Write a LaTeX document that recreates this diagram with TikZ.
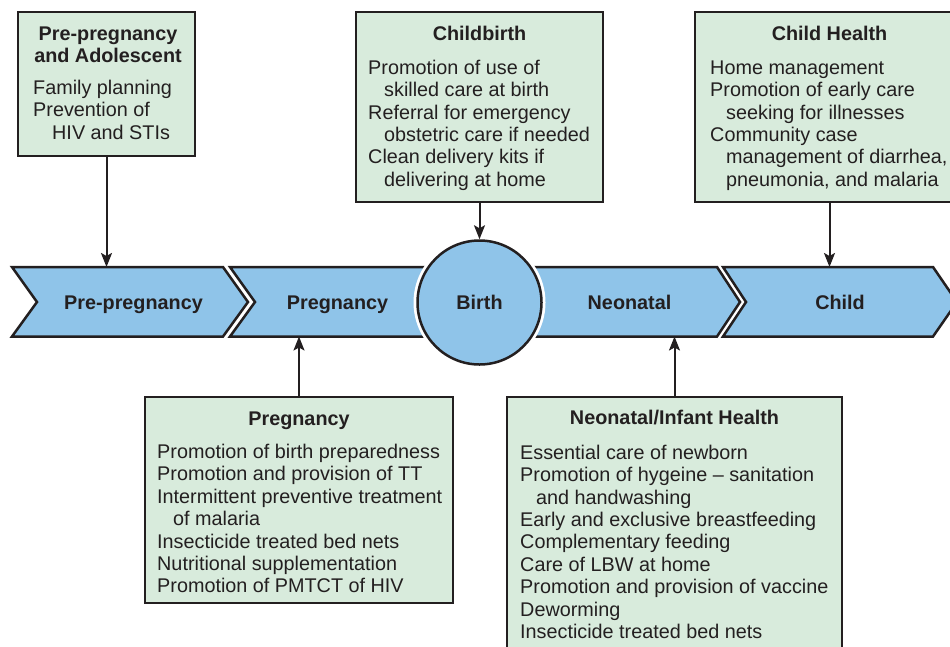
\documentclass[tikz,border=0pt]{standalone}
\usepackage{fontspec}
\setmainfont{Liberation Sans}
\usetikzlibrary{arrows.meta}

\definecolor{bandblue}{HTML}{8FC4E9}
\definecolor{boxgreen}{HTML}{D8EBDC}
\definecolor{ink}{HTML}{231F20}
\newcommand{\indline}{\hspace*{16pt}}

\begin{document}
\begin{tikzpicture}[>=Stealth, x=1pt, y=-1pt,
  every node/.style={font=\fontsize{19.8}{22.4}\selectfont, text=ink},
  band/.style={fill=bandblue, draw=ink, line width=2.5pt, line join=miter},
  bandlabel/.style={font=\fontsize{19.8}{22.4}\selectfont\bfseries, anchor=base},
  infobox/.style={rectangle, fill=boxgreen, draw=ink, line width=2.5pt,
    inner sep=0pt, outer sep=0pt, anchor=north west},
  boxtitle/.style={font=\fontsize{19.8}{22.4}\selectfont\bfseries, anchor=base},
  boxbody/.style={align=left, anchor=north west, inner sep=0pt},
  link/.style={->, line width=2pt, draw=ink, >={Stealth[length=14pt,width=11pt,inset=3pt]}}]

\useasboundingbox (0,0) rectangle (950,646);
\clip (0,0) rectangle (950,646);

% --- Time line (chevrons) ---
\coordinate (bandtop) at (0,267);
\coordinate (bandbot) at (0,336.5);

\draw[band] (12,267) -- (223,267) -- (248,302) -- (223,336.5) -- (12,336.5) -- (37,302) -- cycle;
\draw[band] (230,267) -- (455,267) -- (455,336.5) -- (230,336.5) -- (255,302) -- cycle;
\draw[band] (505,267) -- (717,267) -- (740,302) -- (717,336.5) -- (505,336.5) -- cycle;
\draw[band] (723,267) -- (933,267) -- (957,302) -- (933,336.5) -- (723,336.5) -- (746,302) -- cycle;

\node[circle, minimum size=124pt, fill=bandblue, draw=ink, line width=2.5pt,
  preaction={draw=white, line width=8pt},
  font=\fontsize{19.8}{22.4}\selectfont\bfseries] (birth) at (479.5,302.5) {Birth};

\node[bandlabel] (prepreg) at (133.5,309) {Pre-pregnancy};
\node[bandlabel] (preg) at (337.5,309) {Pregnancy};
\node[bandlabel] (neo) at (629.5,309) {Neonatal};
\node[bandlabel] (child) at (840,309) {Child};

% --- Boxes above ---
\node[infobox, minimum width=177pt, minimum height=144pt] (ppbox) at (18,12) {};
\node[align=center, anchor=north, inner sep=0pt,
  font=\fontsize{19.8}{22.4}\selectfont\bfseries] at (108,24.7) {\strut Pre-pregnancy\\and Adolescent};
\node[boxbody] at (33,78.4) {\strut Family planning\\Prevention of\\\hspace*{19pt}HIV and STIs};

\node[infobox, minimum width=247pt, minimum height=190pt] (cbbox) at (356,12) {};
\node[boxtitle] at (479.5,40.7) {Childbirth};
\node[boxbody] at (368,58.4) {\strut Promotion of use of\\
  \indline skilled care at birth\\
  Referral for emergency\\
  \indline obstetric care if needed\\
  Clean delivery kits if\\
  \indline delivering at home};

\node[infobox, minimum width=269pt, minimum height=190pt] (chbox) at (695,12) {};
\node[boxtitle] at (829.5,40.7) {Child Health};
\node[boxbody] at (710,58.4) {\strut Home management\\
  Promotion of early care\\
  \indline seeking for illnesses\\
  Community case\\
  \indline management of diarrhea,\\
  \indline pneumonia, and malaria};

% --- Boxes below ---
\node[infobox, minimum width=308pt, minimum height=206pt] (pgbox) at (145,397) {};
\node[boxtitle] at (299,425) {Pregnancy};
\node[boxbody] at (157,442.7) {\strut Promotion of birth preparedness\\
  Promotion and provision of TT\\
  Intermittent preventive treatment\\
  \indline of malaria\\
  Insecticide treated bed nets\\
  Nutritional supplementation\\
  Promotion of PMTCT of HIV};

\node[infobox, minimum width=335pt, minimum height=268pt] (nibox) at (507,397) {};
\node[boxtitle] at (674.5,424) {Neonatal/Infant Health};
\node[boxbody] at (520,443.4) {\strut Essential care of newborn\\
  Promotion of hygeine -- sanitation\\
  \indline and handwashing\\
  Early and exclusive breastfeeding\\
  Complementary feeding\\
  Care of LBW at home\\
  Promotion and provision of vaccine\\
  Deworming\\
  Insecticide treated bed nets};

% --- Arrows ---
\draw[link] (ppbox.south) -- (ppbox.south |- bandtop);
\draw[link] (cbbox) -- (birth);
\draw[link] (chbox.south) -- (chbox.south |- bandtop);
\draw[link] (pgbox.north) -- (pgbox.north |- bandbot);
\draw[link] (nibox.north) -- (nibox.north |- bandbot);

\end{tikzpicture}
\end{document}
